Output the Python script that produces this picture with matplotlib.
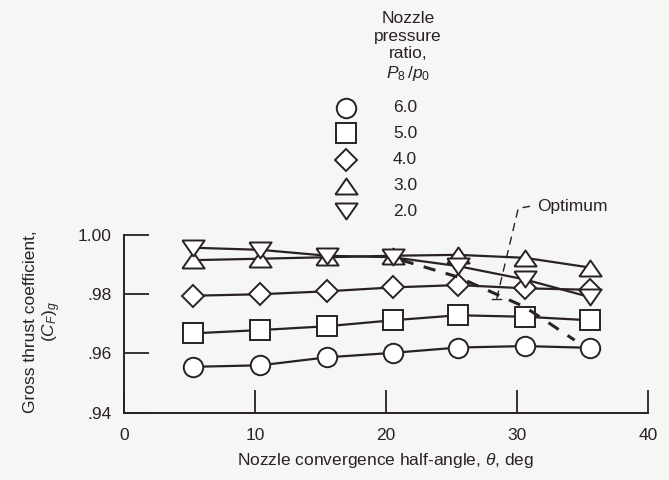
import matplotlib
matplotlib.use("Agg")
import matplotlib.pyplot as plt
from matplotlib.lines import Line2D

plt.rcParams.update({
    "font.family": ["Liberation Sans", "DejaVu Sans"],
    "font.size": 12,
    "mathtext.fontset": "custom",
    "mathtext.rm": "Liberation Sans",
    "mathtext.it": "Liberation Sans:italic",
    "mathtext.bf": "Liberation Sans:bold",
})

INK = "#2a2222"
BG = "#f6f6f4"

# convergence half-angle, deg
angle = [5.3, 10.4, 15.5, 20.5, 25.5, 30.6, 35.6]

# gross thrust coefficient per nozzle pressure ratio
cf_60 = [0.9555, 0.9560, 0.9587, 0.9602, 0.9620, 0.9625, 0.9619]
cf_50 = [0.9668, 0.9679, 0.9692, 0.9712, 0.9729, 0.9724, 0.9712]
cf_40 = [0.9795, 0.9800, 0.9810, 0.9823, 0.9831, 0.9820, 0.9815]
cf_30 = [0.9915, 0.9920, 0.9925, 0.9930, 0.9933, 0.9923, 0.9890]
cf_20 = [0.9957, 0.9950, 0.9930, 0.9925, 0.9895, 0.9850, 0.9790]

npr_labels = ["6.0", "5.0", "4.0", "3.0", "2.0"]

# squat triangles, like the drafting template in the original
TRI_UP = [(-1.0, -0.72), (1.0, -0.72), (0.0, 0.72), (-1.0, -0.72)]
TRI_DOWN = [(-1.0, 0.72), (1.0, 0.72), (0.0, -0.72), (-1.0, 0.72)]
markers = ["o", "s", "D", TRI_UP, TRI_DOWN]
sizes = [14, 14, 11.5, 16, 16]

# optimum curve (dashed)
opt_angle = [21.2, 25.5, 30.6, 34.4]
opt_cf = [0.9915, 0.9858, 0.9757, 0.9645]

fig = plt.figure(figsize=(6.69, 4.80), dpi=100, facecolor=BG)
ax = fig.add_axes([0.1853, 0.1402, 0.7833, 0.3702], facecolor=BG)

series = [cf_60, cf_50, cf_40, cf_30, cf_20]
for vals, mk, ms in zip(series, markers, sizes):
    ax.plot(angle, vals, color=INK, lw=1.6, marker=mk, ms=ms,
            mfc="white", mec=INK, mew=1.4, clip_on=False, zorder=3)

ax.plot(opt_angle, opt_cf, color=INK, lw=2.2, ls=(0, (4, 3.5)),
        clip_on=False, zorder=4)

# leader for "Optimum"
ax.plot([28.45, 30.1, 31.0], [0.9785, 1.0090, 1.0097], color=INK,
        lw=1.0, ls=(0, (6, 4)), clip_on=False, zorder=4)
ax.plot([28.1, 28.8], [0.9785, 0.9785], color=INK, lw=1.0, clip_on=False)
ax.text(31.5, 1.0095, "Optimum", ha="left", va="center", color=INK,
        fontsize=12.5)

ax.set_xlim(0, 40)
ax.set_ylim(0.94, 1.00)
ax.set_xticks([0, 10, 20, 30, 40])
ax.set_xticklabels(["0", "10", "20", "30", "40"])
ax.set_yticks([0.94, 0.96, 0.98, 1.00])
ax.set_yticklabels([".94", ".96", ".98", "1.00"])
ax.tick_params(axis="x", direction="in", length=16.5, width=1.3,
               pad=11, colors=INK, labelsize=12.5)
ax.tick_params(axis="y", direction="in", length=18, width=1.3,
               pad=9, colors=INK, labelsize=12.5)
for s in ["top", "right"]:
    ax.spines[s].set_visible(False)
for s in ["left", "bottom"]:
    ax.spines[s].set_color(INK)
    ax.spines[s].set_linewidth(1.4)

ax.set_xlabel(r"Nozzle convergence half-angle, $\theta$, deg", color=INK,
              fontsize=12.5, labelpad=6)
fig.text(43 / 669, 1 - 322 / 480,
         "Gross thrust coefficient,\n" + r"$(C_F)_g$",
         rotation=90, ha="center", va="center", multialignment="center",
         color=INK, fontsize=12.5, linespacing=1.1)

# key
fig.text(408 / 669, 1 - 47 / 480,
         "Nozzle\npressure\nratio,\n" + r"$P_8\,/p_0$",
         ha="center", va="center", multialignment="center", color=INK,
         fontsize=12.5, linespacing=1.2)
key_y = [108, 133, 160, 186, 211]
for lab, mk, ms, yy in zip(npr_labels, markers, sizes, key_y):
    fig.add_artist(Line2D([346 / 669], [1 - yy / 480], marker=mk, ms=ms,
                          mfc="white", mec=INK, mew=1.4, ls="none",
                          transform=fig.transFigure))
    fig.text(393 / 669, 1 - yy / 480, lab, ha="left", va="center",
             color=INK, fontsize=12.5)

fig.savefig("out.png", dpi=100, facecolor=BG)
